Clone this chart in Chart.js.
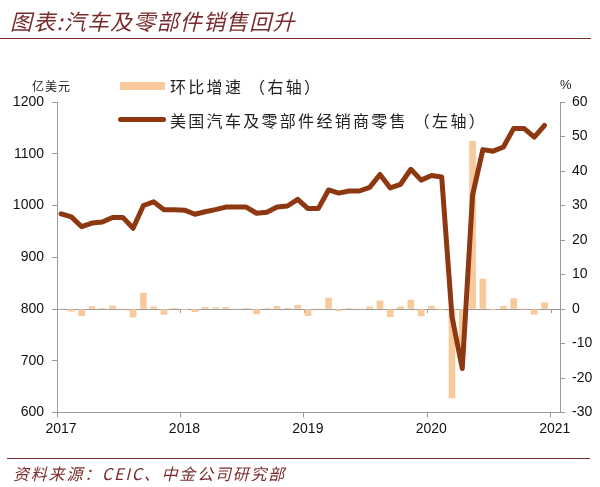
<!DOCTYPE html>
<html>
<head>
<meta charset="utf-8">
<script src="https://cdn.jsdelivr.net/npm/chart.js@4.4.0/dist/chart.umd.min.js"></script>
<style>
  body { margin: 0; background: #fff; }
  #wrap { position: relative; width: 600px; height: 487px; overflow: hidden; background: #fff; }
  canvas { position: absolute; left: 0; top: 0; }
  .t { position: absolute; white-space: nowrap; font-family: "Noto Sans CJK SC", sans-serif; }
  .maroon { color: #7a2c2c; font-style: italic; }
  .rule { position: absolute; background: #7a2c2c; height: 1.5px; }
</style>
</head>
<body>
<div id="wrap">
  <canvas id="salesChart" width="600" height="487"></canvas>

  <div class="t maroon" style="left:10px;top:7px;font-size:22px;line-height:26px;letter-spacing:1.2px;">图表:汽车及零部件销售回升</div>
  <div class="rule" style="left:0;top:37.5px;width:591px;"></div>

  <!-- legend -->
  <div style="position:absolute;left:120px;top:82px;width:45px;height:8px;background:#f8c99b;"></div>
  <div class="t" style="left:170px;top:75px;font-size:16px;line-height:22px;letter-spacing:2.3px;color:#222;">环比增速 （右轴）</div>
  <div style="position:absolute;left:118px;top:117px;width:48px;height:5px;border-radius:3px;background:#8e3812;"></div>
  <div class="t" style="left:170px;top:109px;font-size:16px;line-height:22px;letter-spacing:2.3px;color:#222;">美国汽车及零部件经销商零售 （左轴）</div>

  <!-- axis units -->
  <div class="t" style="left:32px;top:78px;font-size:12px;line-height:16px;letter-spacing:1px;color:#222;">亿美元</div>
  <div class="t" style="left:560px;top:77px;font-size:13px;line-height:16px;color:#222;font-family:'Liberation Sans',sans-serif;">%</div>

  <div class="rule" style="left:7px;top:457.5px;width:583px;"></div>
  <div class="t maroon" style="left:13px;top:462px;font-size:16px;line-height:22px;letter-spacing:1.8px;">资料来源：CEIC、中金公司研究部</div>
</div>

<script>
// tick labels on the bottom axis, one per January
const years = ['2017', '2018', '2019', '2020', '2021'];

// 美国汽车及零部件经销商零售, 亿美元, monthly Jan 2017 - Dec 2020
const retailSales = [
  984, 978, 959, 966, 968, 977, 977, 956, 1000, 1007, 992, 992,
  991, 983, 988, 992, 997, 997, 997, 985, 987, 997, 999, 1012,
  994, 994, 1030, 1024, 1028, 1028, 1035, 1060, 1034, 1041, 1070, 1049,
  1058, 1055, 785, 685, 1020, 1108, 1105, 1113, 1149, 1149, 1132, 1155
];

// 环比增速, %
const momGrowth = [
  0, -0.6, -1.9, 0.7, 0.2, 0.9, 0, -2.3, 4.6, 0.6, -1.6, 0.1,
  -0.1, -0.8, 0.5, 0.4, 0.5, 0, 0.1, -1.4, 0.2, 0.8, 0.2, 1.1,
  -1.9, 0, 3.2, -0.5, 0.2, 0, 0.6, 2.4, -2.2, 0.6, 2.6, -2.0,
  0.8, -0.3, -25.8, -12.7, 48.6, 8.7, -0.3, 0.8, 3.0, 0, -1.5, 1.8
];

const axisGray = '#9a9a9a';
const tickFont = { family: 'Liberation Sans', size: 14 };

// little year ticks along the zero line of the right axis
const zeroTicks = {
  id: 'zeroTicks',
  beforeDatasetsDraw(chart) {
    const x = chart.scales.x;
    const y0 = chart.scales.y2.getPixelForValue(0);
    const ctx = chart.ctx;
    ctx.save();
    ctx.strokeStyle = axisGray;
    ctx.lineWidth = 1;
    x.ticks.forEach(t => {
      const px = Math.round(x.getPixelForValue(t.value)) + 0.5;
      ctx.beginPath();
      ctx.moveTo(px, y0);
      ctx.lineTo(px, y0 + 4);
      ctx.stroke();
    });
    ctx.restore();
  }
};

const ctx = document.getElementById('salesChart');
new Chart(ctx, {
  data: {
    datasets: [
      {
        type: 'line',
        label: '美国汽车及零部件经销商零售 （左轴）',
        data: retailSales.map((v, i) => ({ x: i, y: v })),
        yAxisID: 'y',
        borderColor: '#8e3812',
        borderWidth: 5,
        borderJoinStyle: 'round',
        borderCapStyle: 'round',
        pointRadius: 0,
        tension: 0,
        order: 0
      },
      {
        type: 'bar',
        label: '环比增速 （右轴）',
        data: momGrowth.map((v, i) => ({ x: i, y: v })),
        yAxisID: 'y2',
        backgroundColor: '#f8c99b',
        barThickness: 6,
        order: 1
      }
    ]
  },
  options: {
    responsive: false,
    animation: false,
    layout: { padding: { top: 102, left: 0, right: 0, bottom: 0 } },
    plugins: {
      legend: { display: false },
      tooltip: { enabled: false }
    },
    scales: {
      x: {
        type: 'linear',
        offset: false,
        min: -0.4,
        max: 48.5,
        afterBuildTicks: scale => {
          scale.ticks = years.map((y, k) => ({ value: 12 * k - 0.4 }));
        },
        afterFit: scale => { scale.height = 74.5; },
        ticks: {
          callback: (v, idx) => years[idx],
          font: tickFont,
          color: '#111',
          padding: 3,
          labelOffset: 4,
          maxRotation: 0
        },
        grid: { offset: false, drawOnChartArea: false, drawTicks: true, tickLength: 5, color: axisGray },
        border: { display: true, color: axisGray }
      },
      y: {
        position: 'left',
        min: 600,
        max: 1200,
        afterFit: scale => { scale.width = 57; },
        ticks: { stepSize: 100, font: tickFont, color: '#111', padding: 8, callback: v => String(v) },
        grid: { drawOnChartArea: false, drawTicks: true, tickLength: 5, color: axisGray },
        border: { display: true, color: axisGray }
      },
      y2: {
        position: 'right',
        min: -30,
        max: 60,
        afterFit: scale => { scale.width = 40; },
        ticks: { stepSize: 10, font: tickFont, color: '#111', padding: 7 },
        grid: {
          drawOnChartArea: true,
          drawTicks: true,
          tickLength: 5,
          color: c => (c.tick && c.tick.value === 0 ? axisGray : 'rgba(0,0,0,0)'),
          tickColor: axisGray
        },
        border: { display: true, color: axisGray }
      }
    }
  },
  plugins: [zeroTicks]
});
</script>
</body>
</html>
